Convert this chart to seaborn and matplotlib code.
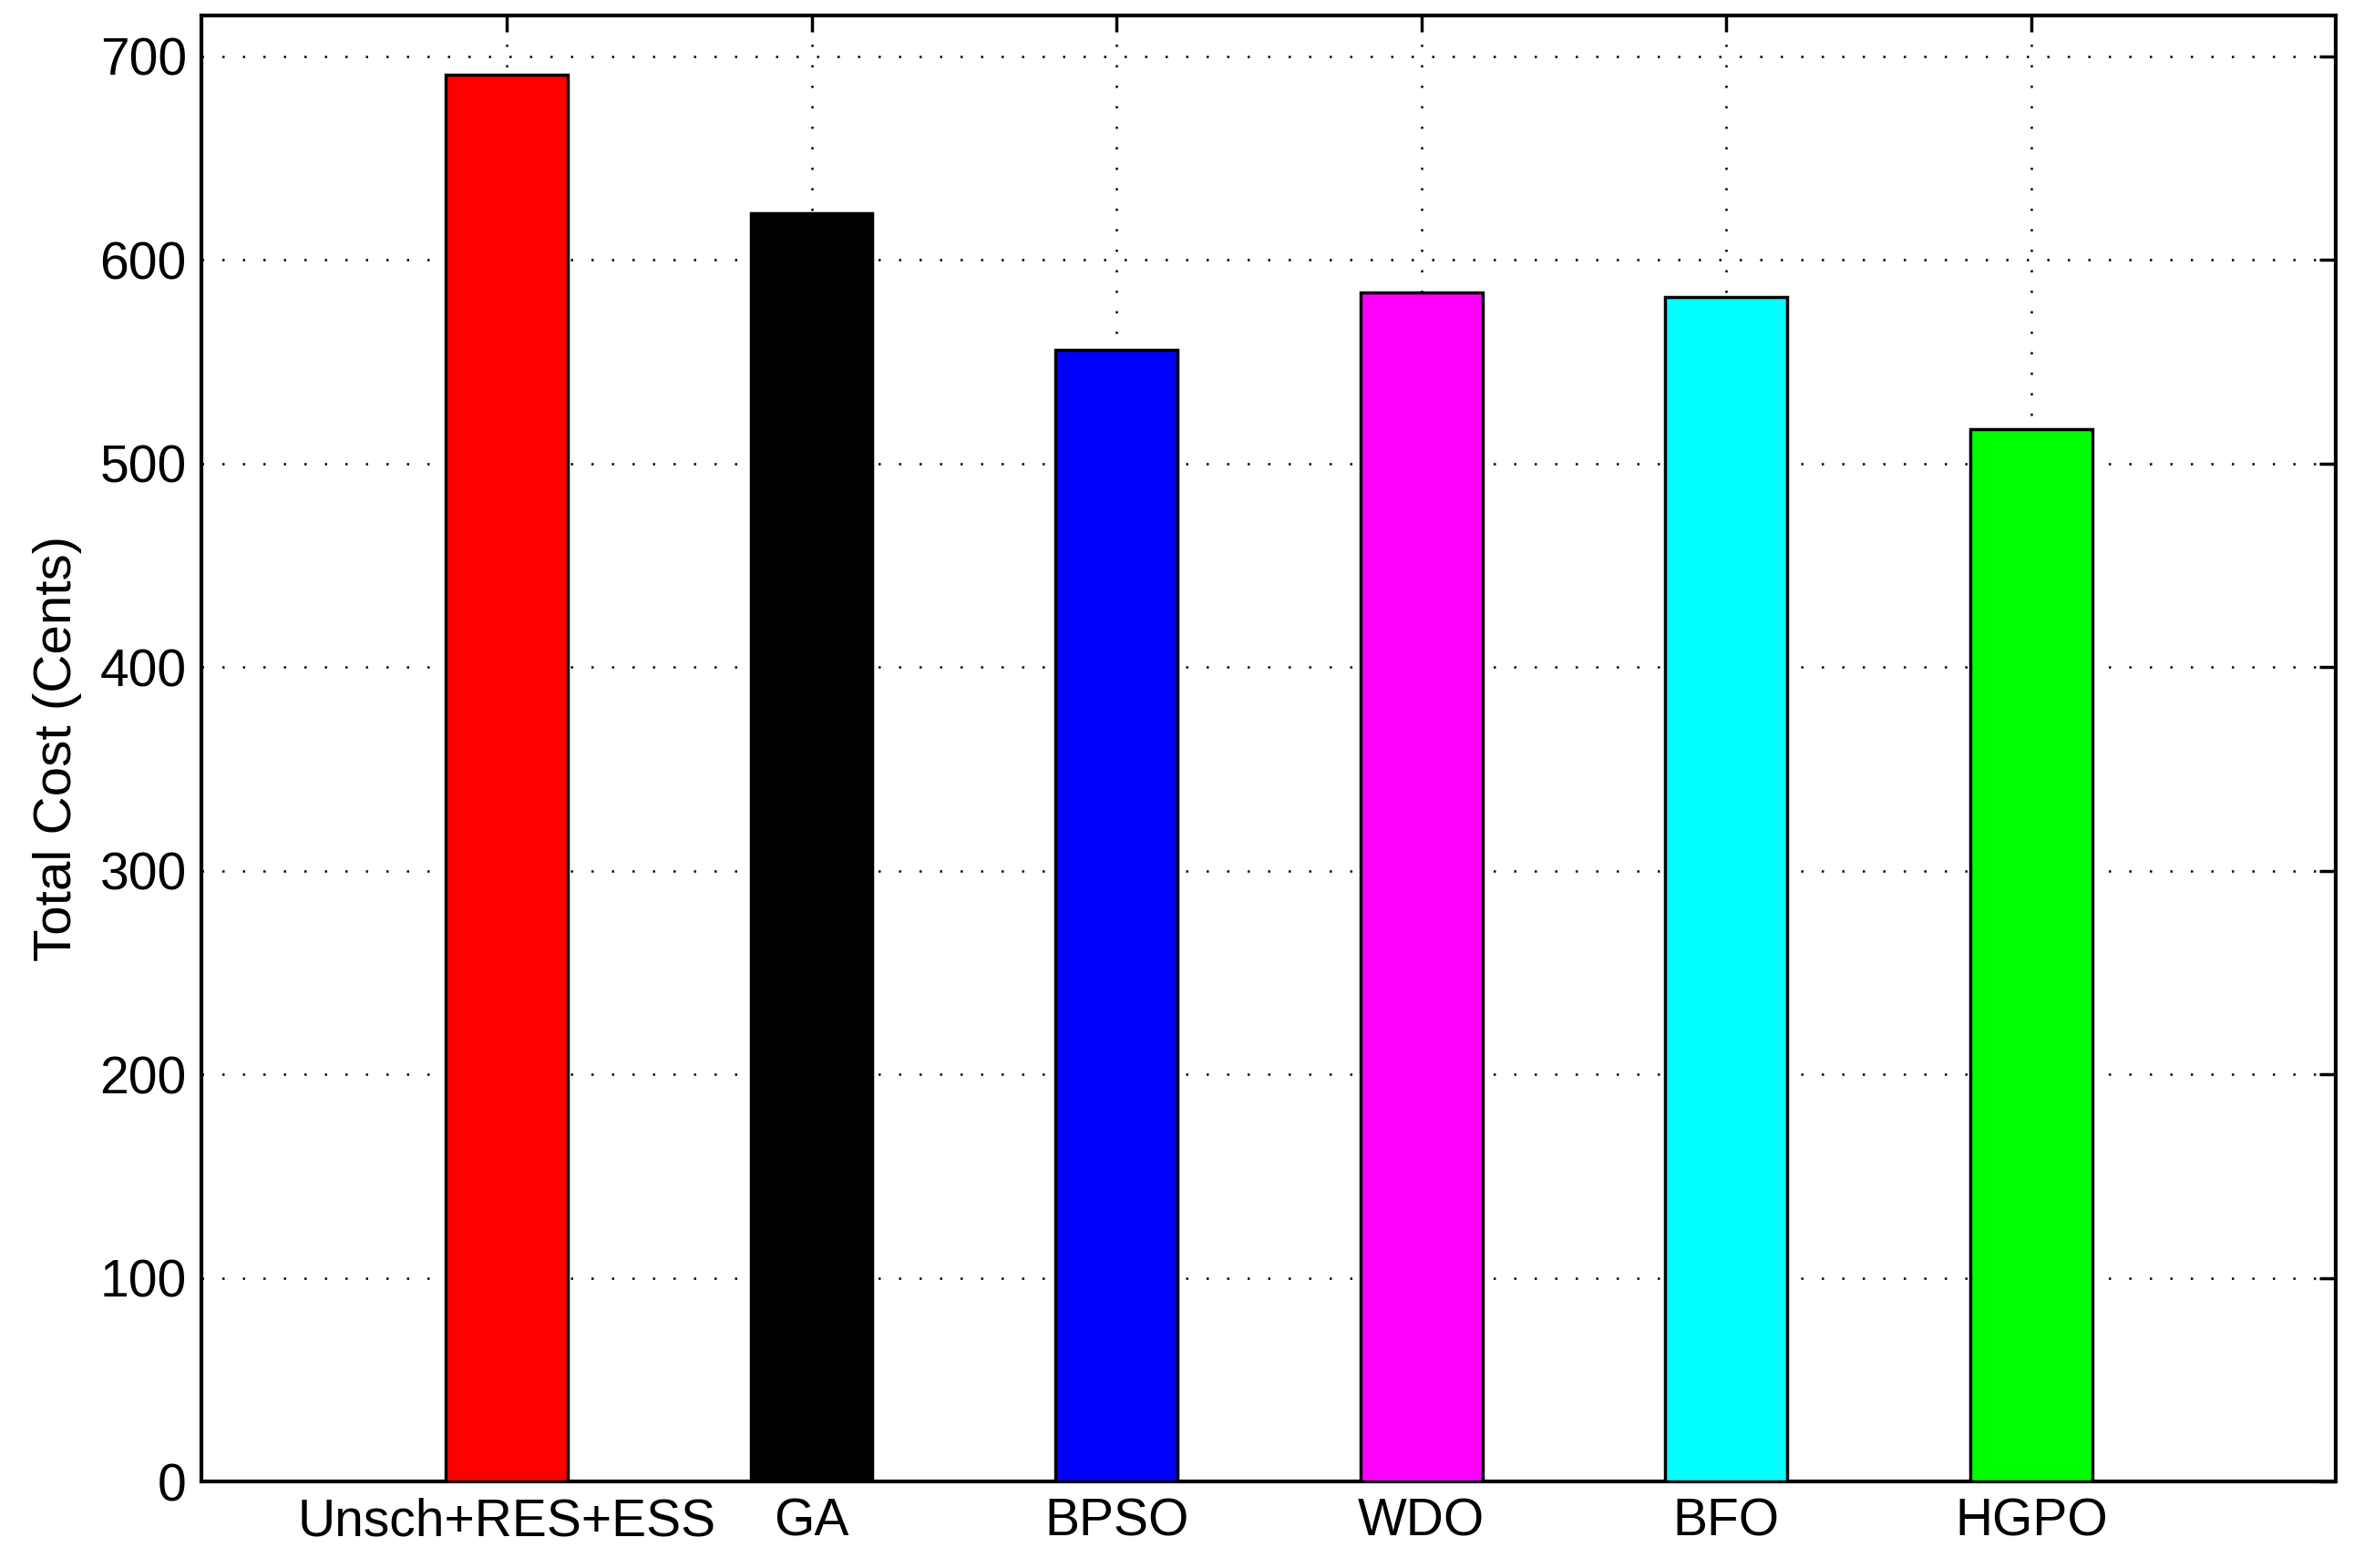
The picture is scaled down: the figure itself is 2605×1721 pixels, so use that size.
import numpy as np
import pandas as pd
import matplotlib
matplotlib.use("Agg")
import matplotlib.pyplot as plt
import seaborn as sns

methods = ["Unsch+RES+ESS", "GA", "BPSO", "WDO", "BFO", "HGPO"]
costs = [691, 623, 556, 584, 582, 517]
colors = ["#ff0000", "#000000", "#0000ff", "#ff00ff", "#00ffff", "#00ff00"]

df = pd.DataFrame({"Method": methods, "Cost": costs})

sns.set_style("white")
plt.rcParams["font.family"] = ["Liberation Sans Narrow", "Liberation Sans", "DejaVu Sans"]
plt.rcParams["text.color"] = "black"
plt.rcParams["axes.labelcolor"] = "black"
plt.rcParams["xtick.color"] = "black"
plt.rcParams["ytick.color"] = "black"

fig = plt.figure(figsize=(26.05, 17.21), dpi=100)
ax = fig.add_axes([0.085, 0.055, 0.899, 0.935])

sns.barplot(data=df, x="Method", y="Cost", hue="Method", palette=colors,
            width=0.4, edgecolor="black", linewidth=2.5, saturation=1,
            legend=False, ax=ax, zorder=3)

ax.set_xlim(-1, 6)
ax.set_ylim(0, 720)
ax.set_yticks(np.arange(0, 701, 100))
ax.set_xlabel("")
ax.set_ylabel("Total Cost (Cents)", fontsize=42, labelpad=14)
ax.tick_params(axis="both", labelsize=41, direction="in", length=13, width=2.5,
               top=True, right=True, pad=12)
ax.grid(True, linestyle=(0, (1, 8)), color="black", linewidth=1.8, zorder=0)
ax.set_axisbelow(True)
for s in ax.spines.values():
    s.set_linewidth(3)
    s.set_color("black")

fig.savefig("out.png", dpi=100)
